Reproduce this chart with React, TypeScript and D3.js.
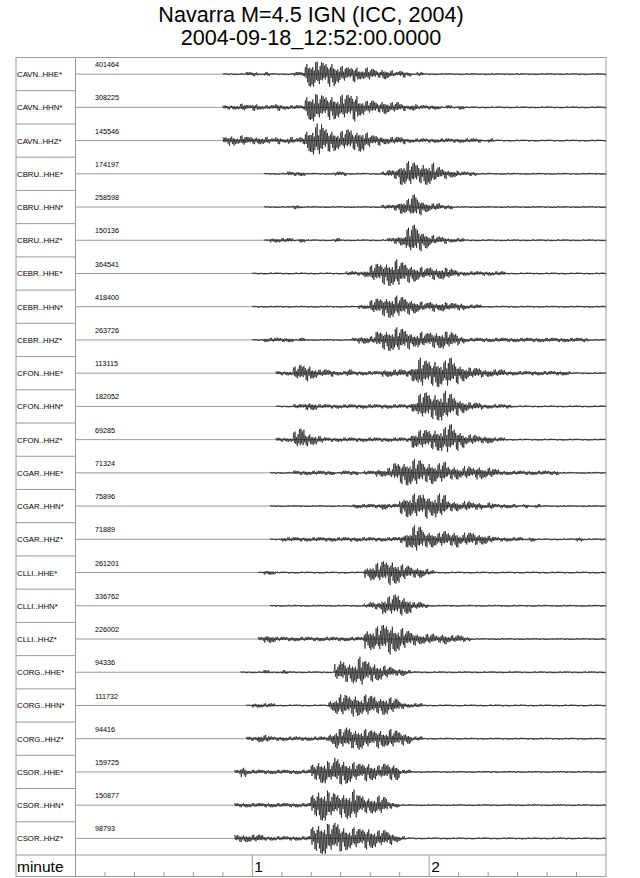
import React from "react";
import * as d3 from "d3";

// station / channel labels, top to bottom
const traceNames = [
  "CAVN..HHE*", "CAVN..HHN*", "CAVN..HHZ*",
  "CBRU..HHE*", "CBRU..HHN*", "CBRU..HHZ*",
  "CEBR..HHE*", "CEBR..HHN*", "CEBR..HHZ*",
  "CFON..HHE*", "CFON..HHN*", "CFON..HHZ*",
  "CGAR..HHE*", "CGAR..HHN*", "CGAR..HHZ*",
  "CLLI..HHE*", "CLLI..HHN*", "CLLI..HHZ*",
  "CORG..HHE*", "CORG..HHN*", "CORG..HHZ*",
  "CSOR..HHE*", "CSOR..HHN*", "CSOR..HHZ*",
];

// max counts printed above each trace
const peakCounts = [
  401464, 308225, 145546,
  174197, 258598, 150136,
  364541, 418400, 263726,
  113115, 182052, 69285,
  71324, 75896, 71889,
  261201, 336762, 226002,
  94336, 111732, 94416,
  159725, 150877, 98793,
];

// envelope amplitude every 2 s (0..180 s), base-36 digit, "-" = no data
const envelopes = [
  "---------- ---------- -----11112 2121111229 a989765645 4343232121 1111111111 1111111111 1111111111",
  "---------- ---------- -----22232 3222322229 b989899a65 5454432322 2212121111 1111111111 1111111111",
  "---------- ---------- -----34343 3332323238 bc98778786 4433332222 2222222221 2111111111 1111111111",
  "---------- ---------- ---------- --11112221 1111221111 1123489878 8543322211 1111111111 1111111111",
  "---------- ---------- ---------- --11111211 1111111111 1122356964 3322111111 1111111111 1111111111",
  "---------- ---------- ---------- --12222121 1111211111 1112349b86 4332221111 1111111111 1111111111",
  "---------- ---------- ---------- 1111111111 1111112223 6789a87654 5454322222 2221111111 1111111111",
  "---------- ---------- ---------- 1111111111 1111111122 5678876543 4343332221 1111111111 1111111111",
  "---------- ---------- ---------- 1122222121 1111111233 3678987565 6676532222 2222222222 2222222111",
  "---------- ---------- ---------- ----222566 4333223222 22333336b9 9a9b865443 3332222222 2222111111",
  "---------- ---------- ---------- ----111223 3222222222 222222249a 9ab9754332 2222111111 1111111111",
  "---------- ---------- ---------- ----222685 4322222222 2222222677 789b864433 3221111111 1111111111",
  "---------- ---------- ---------- ---1111222 2222122212 2334789a97 8785545454 4322222222 2211111111",
  "---------- ---------- ---------- ---1111111 1111111222 2232268989 7984434332 3222212121 1111111111",
  "---------- ---------- ---------- ---1122222 2222222222 2222236a96 6565645544 3222221211 1111121111",
  "---------- ---------- ---------- -122111111 1111111114 6789865443 2111111111 1111111111 1111111111",
  "---------- ---------- ---------- ---1111111 1111111112 3367876332 1111111111 1111111111 1111111111",
  "---------- ---------- ---------- -233222222 2222222227 89ab986544 4343332111 1111111111 1111111111",
  "---------- ---------- --------11 1121121111 11116878b8 7654332111 1111111111 1111111111 1111111111",
  "---------- ---------- ---------1 2222111111 1114787878 7676532221 1111111111 1111111111 1111111111",
  "---------- ---------- ---------2 2332222222 2224878787 6767654221 1111111111 1111111111 1111111111",
  "---------- ---------- -------242 2222222222 6897a98767 6566622111 1111111111 1111111111 1111111111",
  "---------- ---------- -------222 2222222222 8bc989ab76 6763211111 1111111111 1111111111 1111111111",
  "---------- ---------- -------333 3322222222 9bcab98878 7665321111 1111111111 1111111111 1111111111",
];

const SAMPLE_SEC = 2;
const minuteTicks = [1, 2];

// wiggle texture used to draw an envelope sample as an oscillation
const WIGGLE = [1, 0.35, 0.75, 0.5, 0.9, 0.25, 0.6, 0.85, 0.4, 1, 0.55, 0.3, 0.8, 0.65, 0.45, 0.95, 0.5];
const STEPS = 8;

const W = 640;
const H = 878;
const FONT = "'Liberation Sans', Arial, Helvetica, sans-serif";
const GRID = "#9a9a9a";

const App: React.FC = () => {
  const left = 16;
  const plotL = 75.5;
  const right = 606;
  const top = 57.5;
  const rowsBottom = 855;
  const axisBottom = 876.5;
  const rowH = (rowsBottom - top) / traceNames.length;

  const x = d3.scaleLinear().domain([0, 180]).range([plotL, right]);
  const xMin = d3.scaleLinear().domain([0, 3]).range([plotL, right]);
  const amp = d3.scaleLinear().domain([0, 1, 2, 12]).range([0, 1.0, 2.2, 17]);

  const rowY = (i: number) => top + i * rowH;
  const baseY = (i: number) => top + (i + 0.5) * rowH;

  const tracePath = (env: string, i: number) => {
    const vals = env.replace(/\s/g, "").split("");
    const pts: [number, number][] = [];
    let sign = 1;
    let n = 0;
    vals.forEach((c, k) => {
      if (c === "-") return;
      const a = amp(parseInt(c, 36));
      for (let j = 0; j < STEPS; j++) {
        const f = WIGGLE[n % WIGGLE.length];
        pts.push([x(k * SAMPLE_SEC + (j * SAMPLE_SEC) / STEPS), baseY(i) - sign * a * f]);
        sign = -sign;
        n++;
      }
    });
    pts.push([x(180), baseY(i)]);
    return d3.line()(pts) || "";
  };

  const minorTicks = d3.range(1, 18).map((d) => d / 6);

  return (
    <svg
      width={W}
      height={H}
      style={{ position: "absolute", left: 0, top: 0, background: "#fff" }}
    >
      <g fontFamily={FONT} fill="#000">
        <text x={311} y={21.5} fontSize={21.6} textAnchor="middle">
          Navarra M=4.5 IGN (ICC, 2004)
        </text>
        <text x={311} y={44.5} fontSize={21.6} textAnchor="middle">
          2004-09-18_12:52:00.0000
        </text>
      </g>

      {/* frame */}
      <g stroke={GRID} strokeWidth={1} fill="none">
        <rect x={left} y={top} width={right - left} height={axisBottom - top} />
        <line x1={plotL} x2={plotL} y1={top} y2={axisBottom} />
        <line x1={left} x2={right} y1={rowsBottom} y2={rowsBottom} />
        {traceNames.slice(1).map((_, i) => (
          <line key={i} x1={left} x2={plotL} y1={rowY(i + 1)} y2={rowY(i + 1)} />
        ))}
        {traceNames.map((_, i) => (
          <line key={"b" + i} x1={plotL} x2={right} y1={baseY(i)} y2={baseY(i)} />
        ))}
      </g>

      {/* traces */}
      <g stroke="#000" strokeWidth={0.6} fill="none" strokeLinejoin="round">
        {envelopes.map((env, i) => (
          <path key={i} d={tracePath(env, i)} />
        ))}
      </g>

      {/* labels */}
      <g fontFamily={FONT} fill="#000">
        {traceNames.map((name, i) => (
          <text key={name} x={17} y={baseY(i) + 3} fontSize={7.8}>
            {name}
          </text>
        ))}
        {peakCounts.map((v, i) => (
          <text key={i} x={95} y={rowY(i) + 9.7} fontSize={7.2}>
            {v}
          </text>
        ))}
      </g>

      {/* time axis */}
      <g stroke={GRID} strokeWidth={1}>
        {minorTicks.map((m) => (
          <line
            key={m}
            x1={xMin(m)}
            x2={xMin(m)}
            y1={minuteTicks.includes(Math.round(m * 100) / 100) ? rowsBottom : axisBottom - 4.5}
            y2={axisBottom}
          />
        ))}
      </g>
      <g fontFamily={FONT} fill="#000" fontSize={15.5}>
        <text x={17} y={872.3}>minute</text>
        {minuteTicks.map((m) => (
          <text key={m} x={xMin(m) + 2} y={872.3}>
            {m}
          </text>
        ))}
      </g>
    </svg>
  );
};

export default App;
